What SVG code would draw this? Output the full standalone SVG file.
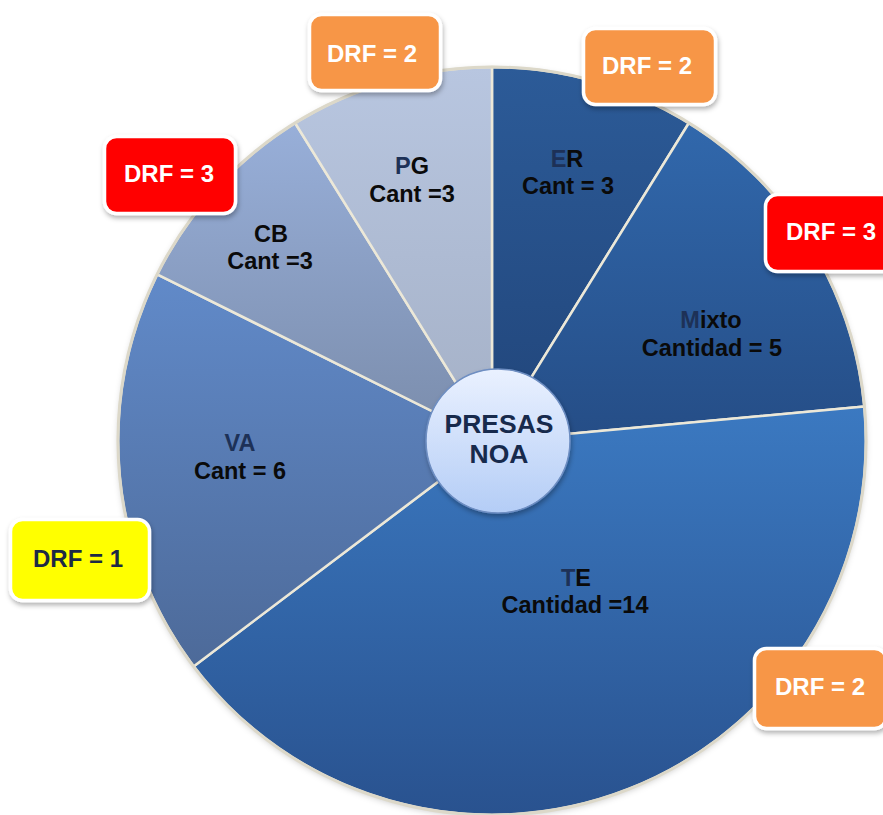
<svg xmlns="http://www.w3.org/2000/svg" width="883" height="815" viewBox="0 0 883 815">
<defs>
<linearGradient id="gPG" x1="0" y1="0" x2="0" y2="1"><stop offset="0" stop-color="#b8c6e0"/><stop offset="1" stop-color="#a4b0c6"/></linearGradient>
<linearGradient id="gCB" x1="0" y1="0" x2="0" y2="1"><stop offset="0" stop-color="#98afd9"/><stop offset="1" stop-color="#7a8cab"/></linearGradient>
<linearGradient id="gVA" x1="0" y1="0" x2="0" y2="1"><stop offset="0" stop-color="#618ac9"/><stop offset="1" stop-color="#4d6a99"/></linearGradient>
<linearGradient id="gER" x1="0" y1="0" x2="0" y2="1"><stop offset="0" stop-color="#2c5b98"/><stop offset="1" stop-color="#21457a"/></linearGradient>
<linearGradient id="gMX" x1="0" y1="0" x2="0" y2="1"><stop offset="0" stop-color="#3168ac"/><stop offset="1" stop-color="#254d86"/></linearGradient>
<linearGradient id="gTE" x1="0" y1="0" x2="0" y2="1"><stop offset="0" stop-color="#3b79c1"/><stop offset="1" stop-color="#29528f"/></linearGradient>
<linearGradient id="gC" x1="0" y1="0" x2="0" y2="1"><stop offset="0" stop-color="#eaf1ff"/><stop offset="1" stop-color="#b4cdf6"/></linearGradient>
<filter id="sh" x="-20%" y="-20%" width="140%" height="150%"><feDropShadow dx="1" dy="3" stdDeviation="2.5" flood-color="#000" flood-opacity="0.3"/></filter>
<filter id="shp" x="-5%" y="-5%" width="110%" height="110%"><feDropShadow dx="0" dy="2" stdDeviation="3" flood-color="#000" flood-opacity="0.2"/></filter>
<style>
.sl{stroke:#ece8d8;stroke-width:2.5;stroke-linejoin:round}
.lb{font-family:"Liberation Sans",Arial,sans-serif;font-weight:bold;font-size:23.5px;fill:#0a0a0a;text-anchor:middle}
.f{fill:#1d3157}
.box{stroke:#fff;stroke-width:3.5;filter:url(#sh)}
.dt{font-family:"Liberation Sans",Arial,sans-serif;font-weight:bold;font-size:24px;fill:#fff;text-anchor:middle}
.or{fill:#f79646}.rd{fill:#ff0000}.ye{fill:#ffff00}
</style>
</defs>
<rect width="883" height="815" fill="#fff"/>
<g id="pie">
<circle cx="492" cy="441" r="374" fill="#2c5a98" filter="url(#shp)"/>
<g id="slice-ER"><path class="sl" fill="url(#gER)" d="M492 441 L492 67 A374 374 0 0 1 688.88 123.02 Z"/></g>
<g id="slice-Mixto"><path class="sl" fill="url(#gMX)" d="M492 441 L688.88 123.02 A374 374 0 0 1 864.40 406.49 Z"/></g>
<g id="slice-TE"><path class="sl" fill="url(#gTE)" d="M492 441 L864.40 406.49 A374 374 0 0 1 193.54 666.38 Z"/></g>
<g id="slice-VA"><path class="sl" fill="url(#gVA)" d="M492 441 L193.54 666.38 A374 374 0 0 1 157.21 274.30 Z"/></g>
<g id="slice-CB"><path class="sl" fill="url(#gCB)" d="M492 441 L157.21 274.30 A374 374 0 0 1 295.12 123.02 Z"/></g>
<g id="slice-PG"><path class="sl" fill="url(#gPG)" d="M492 441 L295.12 123.02 A374 374 0 0 1 492 67 Z"/></g>
<circle cx="492" cy="441" r="374" fill="none" stroke="#dcd8c9" stroke-width="3"/>
</g>
<g id="labels">
<text class="lb" x="567" y="167"><tspan class="f">E</tspan>R</text>
<text class="lb" x="568" y="194">Cant = 3</text>
<text class="lb" x="711" y="328"><tspan class="f">M</tspan>ixto</text>
<text class="lb" x="712" y="356">Cantidad = 5</text>
<text class="lb" x="576" y="586"><tspan class="f">T</tspan>E</text>
<text class="lb" x="575" y="613">Cantidad =14</text>
<text class="lb" x="240" y="451"><tspan class="f">VA</tspan></text>
<text class="lb" x="240" y="479">Cant = 6</text>
<text class="lb" x="271" y="242">CB</text>
<text class="lb" x="270" y="269">Cant =3</text>
<text class="lb" x="412" y="174"><tspan class="f">P</tspan>G</text>
<text class="lb" x="412" y="202">Cant =3</text>
</g>
<g id="center">
<circle cx="498" cy="441" r="72" fill="url(#gC)" stroke="#6e8ec2" stroke-width="1.5" filter="url(#sh)"/>
<text x="499" y="433" font-family="Liberation Sans, Arial, sans-serif" font-weight="bold" font-size="26.5" fill="#172a4c" text-anchor="middle">PRESAS</text>
<text x="499" y="463" font-family="Liberation Sans, Arial, sans-serif" font-weight="bold" font-size="26.5" fill="#172a4c" text-anchor="middle">NOA</text>
</g>
<g id="drf-PG"><rect class="box or" x="309.5" y="14.5" width="131" height="76" rx="12"/><text class="dt" x="372" y="62">DRF = 2</text></g>
<g id="drf-ER"><rect class="box or" x="583.5" y="28.5" width="132" height="76" rx="12"/><text class="dt" x="647" y="74">DRF = 2</text></g>
<g id="drf-CB"><rect class="box rd" x="104.5" y="136.5" width="131" height="77" rx="12"/><text class="dt" x="169" y="182">DRF = 3</text></g>
<g id="drf-Mixto"><rect class="box rd" x="765.5" y="194.5" width="132" height="77" rx="12"/><text class="dt" x="831" y="240">DRF = 3</text></g>
<g id="drf-VA"><rect class="box ye" x="10.5" y="519.5" width="139" height="81" rx="12"/><text class="dt" x="78" y="567" style="fill:#1d2a45">DRF = 1</text></g>
<g id="drf-TE"><rect class="box or" x="754.5" y="648.5" width="132" height="80" rx="12"/><text class="dt" x="820" y="695">DRF = 2</text></g>
</svg>
